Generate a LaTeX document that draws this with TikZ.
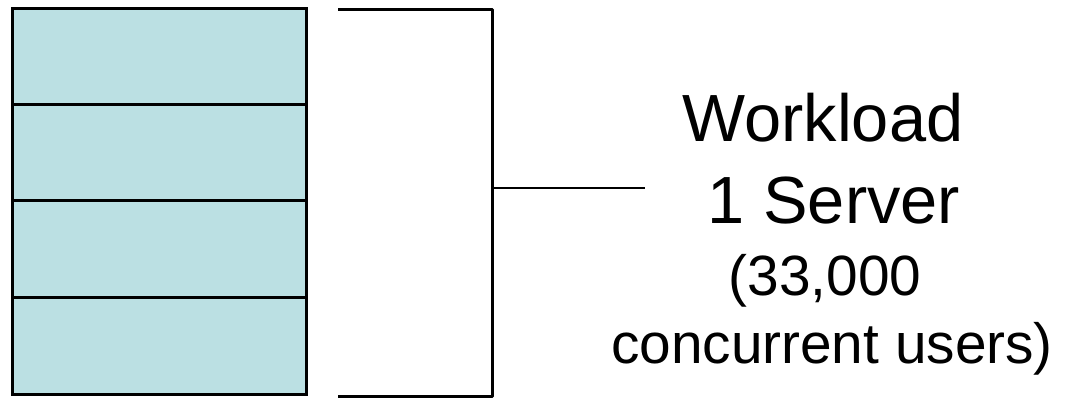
\documentclass[tikz,border=0pt]{standalone}
\usepackage{fontspec}
\setmainfont{Liberation Sans}
\definecolor{slotfill}{RGB}{187,224,227}
\begin{document}
\begin{tikzpicture}[x=1bp,y=-1bp,
  slot/.style={draw=black,fill=slotfill,line width=3bp,minimum width=294bp,minimum height=97bp,inner sep=0pt,outer sep=0pt,anchor=north west},
  brk/.style={draw=black,line width=3bp,line join=round},
  big/.style={font=\fontsize{67}{67}\selectfont,anchor=base,inner sep=0pt},
  small/.style={font=\fontsize{57}{57}\selectfont,anchor=base,inner sep=0pt}]
\useasboundingbox (0,0) rectangle (1067,405);
\node[slot] (s1) at (12,8) {};
\node[slot] (s2) at (12,104) {};
\node[slot] (s3) at (12,200) {};
\node[slot] (s4) at (12,297) {};
\coordinate (bt) at (338,9);
\coordinate (bb) at (338,396);
\coordinate (bm) at (492,188);
\coordinate (tip) at (645,188);
\draw[brk] (bt) -- (492,9) -- (492,396) -- (bb);
\draw[brk,line width=2.5bp] (bm) -- (tip);
\node[big] (t1) at (823,141) {Workload};
\node[big] (t2) at (834,223) {1 Server};
\node[small] (t3) at (825,295) {(33,000};
\node[small] (t4) at (832,363) {concurrent users)};
\end{tikzpicture}
\end{document}
